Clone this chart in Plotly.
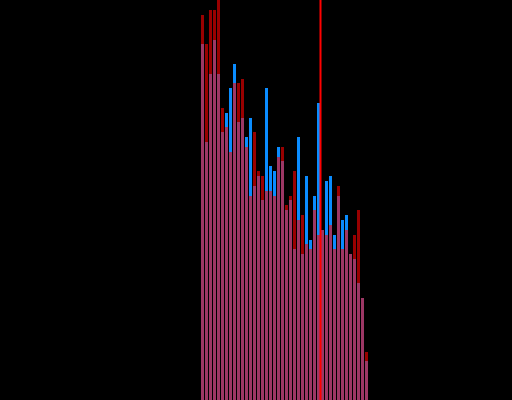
import plotly.graph_objects as go

bins = list(range(42))
red_values = [96.25, 89, 97.5, 97.5, 100, 73, 68.25, 62, 79.25, 79.25,
              80.25, 63.25, 51, 67, 57.25, 56, 52.25, 52.25, 51, 60.75,
              63.25, 48.75, 51, 57.25, 45, 46.25, 39, 37.75, 47.5, 41.25,
              42.5, 41.25, 43.75, 37.75, 53.5, 37.75, 42.5, 36.5, 41.25, 47.5,
              25.5, 12]
blue_values = [89, 64.5, 81.5, 90, 81.5, 67, 71.75, 78, 84, 69.5,
               70.5, 65.75, 70.5, 53.5, 56, 50, 78, 58.5, 57.25, 63.25,
               59.75, 47.5, 50, 37.75, 65.75, 36.5, 56, 40, 51, 74.25,
               42.5, 54.75, 56, 41.25, 51, 45, 46.25, 36.5, 35.25, 29.25,
               25.5, 9.75]
marker_x = 29.5

fig = go.Figure()
fig.add_trace(go.Bar(x=bins, y=blue_values, marker=dict(color="rgb(10,140,255)", line=dict(width=0))))
fig.add_trace(go.Bar(x=bins, y=red_values, marker=dict(color="rgb(255,0,0)", line=dict(width=0)), opacity=0.6))
fig.add_shape(type="line", x0=marker_x, x1=marker_x, y0=0, y1=1, xref="x", yref="paper",
              line=dict(color="rgb(255,0,0)", width=2))

fig.update_layout(
    width=512, height=400,
    barmode="overlay", bargap=0.25,
    paper_bgcolor="black", plot_bgcolor="black",
    margin=dict(l=0, r=0, t=0, b=0),
    showlegend=False,
    hovermode=False,
    xaxis=dict(range=[-50.625, 77.375], visible=False),
    yaxis=dict(range=[0, 100], visible=False),
)
fig.write_html("out.html",
               config={"displayModeBar": False},
               post_script="document.body.style.margin='0';document.body.style.background='black';")
